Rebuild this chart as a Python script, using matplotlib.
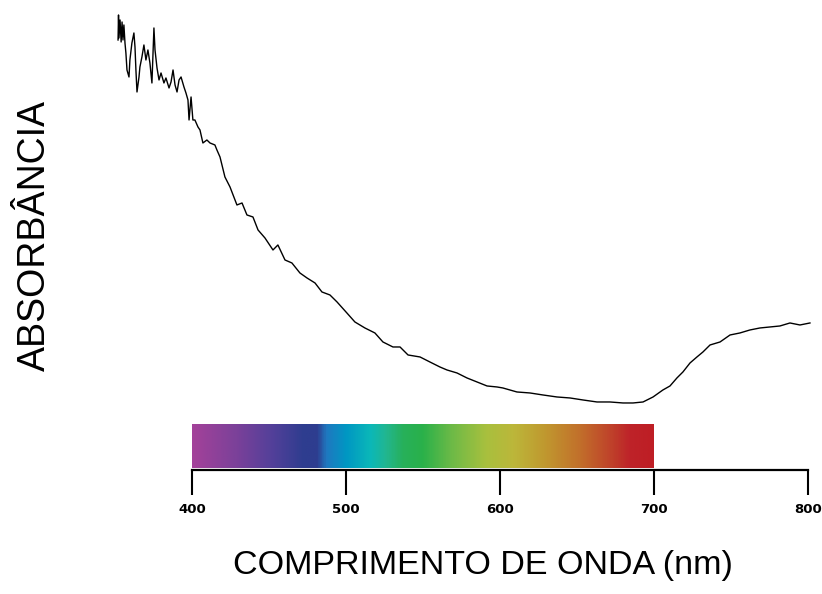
import matplotlib
matplotlib.use('Agg')
import matplotlib.pyplot as plt
import numpy as np
from matplotlib.colors import LinearSegmentedColormap

# Absorption spectrum (arbitrary units)
wavelength = [352.0, 352.3, 352.6, 353.3, 354.0, 354.6, 355.2, 355.8, 356.5, 357.1,
              357.8, 359.1, 359.7, 361.0, 362.3, 363.0, 363.6, 364.3, 365.6, 366.2,
              367.5, 368.8, 370.1, 371.4, 372.7, 374.0, 375.3, 376.0, 377.3, 378.6,
              379.9, 381.8, 383.1, 385.1, 386.4, 387.7, 389.0, 390.3, 391.6, 392.9,
              394.8, 396.1, 397.4, 398.1, 399.4, 400.6, 401.9, 403.9, 405.2,
              407.1, 409.7, 411.7, 414.9, 416.2, 418.2, 421.4, 424.7, 429.2, 432.5,
              435.7, 439.6, 442.9, 447.4, 452.6, 455.8, 460.4, 464.9, 470.1, 474.7,
              479.9, 484.4, 489.6, 494.2, 500.6, 505.8, 512.3, 518.8, 524.0, 530.5,
              535.1, 540.3, 548.1, 554.5, 561.0, 565.6, 572.1, 578.6, 585.1, 591.6,
              598.1, 601.9, 611.0, 619.5, 627.9, 637.0, 645.5, 653.9, 663.0, 671.4,
              679.9, 686.4, 692.9, 699.4, 705.8, 710.4, 714.9, 718.8, 723.4, 727.9,
              731.8, 736.4, 742.9, 749.4, 755.8, 762.3, 768.8, 775.3, 781.8, 788.3,
              794.8, 801.3]
absorbance = [0.860, 0.910, 0.864, 0.900, 0.856, 0.896, 0.860, 0.890, 0.854, 0.834,
              0.800, 0.786, 0.820, 0.854, 0.874, 0.846, 0.800, 0.756, 0.786, 0.806,
              0.826, 0.850, 0.820, 0.840, 0.814, 0.774, 0.884, 0.840, 0.804, 0.780,
              0.794, 0.774, 0.784, 0.764, 0.776, 0.800, 0.770, 0.756, 0.780, 0.786,
              0.766, 0.754, 0.740, 0.700, 0.746, 0.700, 0.700, 0.686, 0.680,
              0.654, 0.660, 0.654, 0.650, 0.640, 0.626, 0.586, 0.566, 0.530, 0.534,
              0.510, 0.506, 0.480, 0.464, 0.440, 0.450, 0.420, 0.414, 0.394, 0.384,
              0.374, 0.356, 0.350, 0.336, 0.314, 0.296, 0.284, 0.274, 0.256, 0.246,
              0.246, 0.230, 0.226, 0.216, 0.206, 0.200, 0.194, 0.184, 0.176, 0.168,
              0.166, 0.164, 0.156, 0.154, 0.150, 0.146, 0.144, 0.140, 0.136, 0.136,
              0.134, 0.134, 0.136, 0.146, 0.160, 0.168, 0.184, 0.196, 0.214, 0.226,
              0.236, 0.250, 0.256, 0.270, 0.274, 0.280, 0.284, 0.286, 0.288, 0.294,
              0.290, 0.294]

# Visible spectrum colour stops
spec_nm = [400, 429, 451, 472, 481, 487, 500, 516, 526, 537, 550, 569, 591, 609,
           630, 652, 674, 685, 700]
spec_colors = ['#a3419a', '#7a4199', '#54409a', '#2e3d8f', '#2e3d8f', '#1f78c0',
               '#0097c3', '#0bb8b8', '#22b68f', '#27b05a', '#2ab14a', '#6dba47',
               '#a8c03e', '#bcb73a', '#c0982f', '#c2702b', '#bf3f2a', '#be2329',
               '#be1e25']

tick_pos = [400, 500, 600, 700, 800]

fig = plt.figure(figsize=(8.22, 5.94), dpi=100)
ax = fig.add_axes([0.1305, 0.2088, 0.8618, 0.7744])

ax.plot(wavelength, absorbance, color='black', linewidth=1.0)

# spectrum bar
pos = [(w - 400) / 300 for w in spec_nm]
cmap = LinearSegmentedColormap.from_list('vis', list(zip(pos, spec_colors)))
grad = np.linspace(0, 1, 600).reshape(1, -1)
ax.imshow(grad, cmap=cmap, aspect='auto', extent=[400, 700, 0.004, 0.092],
          zorder=1, interpolation='bilinear')

ax.set_xlim(345, 805)
ax.set_ylim(0, 0.92)

for s in ['top', 'right', 'left']:
    ax.spines[s].set_visible(False)
ax.spines['bottom'].set_bounds(400, 800)
ax.spines['bottom'].set_linewidth(1.6)
ax.set_yticks([])
ax.set_xticks(tick_pos)
ax.set_xticklabels([str(t) for t in tick_pos], fontweight='bold', fontsize=9.5,
                   family='DejaVu Sans')
ax.tick_params(axis='x', direction='out', length=18, width=1.5, pad=6)

fig.text(0.587, 0.022, 'COMPRIMENTO DE ONDA (nm)', ha='center', va='bottom',
         fontsize=24.5, family='Liberation Sans')
fig.text(0.043, 0.604, 'ABSORBÂNCIA', rotation=90, ha='center', va='center',
         fontsize=27, family='Liberation Sans')

fig.savefig('out.png', dpi=100)
